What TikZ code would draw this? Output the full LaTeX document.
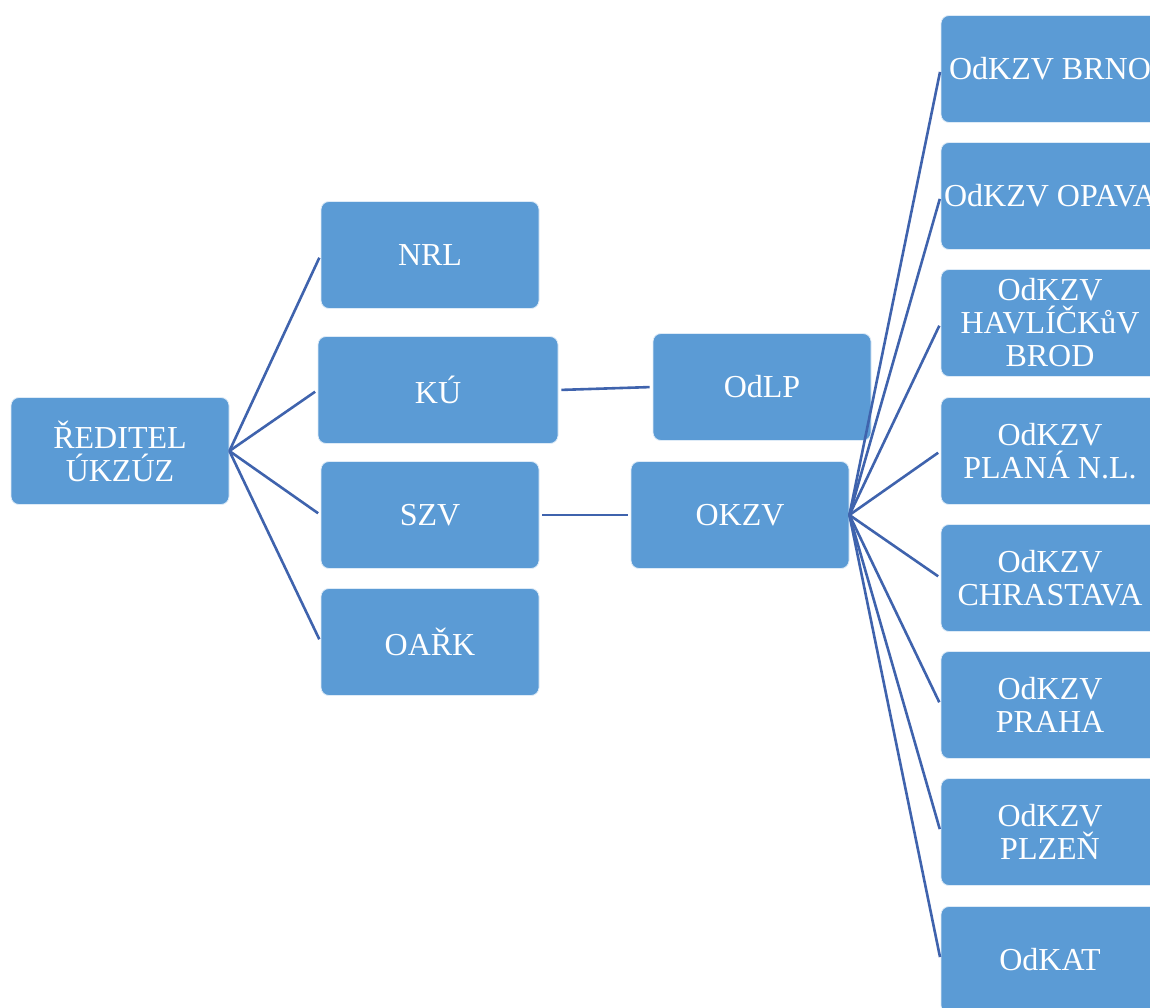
\documentclass[tikz,border=0pt]{standalone}
\usepackage{fontspec}
\setmainfont{Liberation Serif}
\usetikzlibrary{positioning}
\definecolor{boxblue}{HTML}{5B9BD5}
\definecolor{lineblue}{HTML}{3F63AD}

\begin{document}
\begin{tikzpicture}[x=1pt,y=-1pt,
    box/.style={rectangle, rounded corners=8pt, fill=boxblue, draw=white!80!boxblue,
      line width=0.8pt, text=white, minimum width=218pt, minimum height=107pt,
      align=center, inner sep=0pt, font=\fontsize{32}{33}\selectfont},
    link/.style={draw=lineblue, line width=2.6pt, shorten >=3pt}]
  \useasboundingbox (0,0) rectangle (1150,1008);
  \clip (0,0) rectangle (1150,1008);
  % left part
  \node[box] (reditel) at (120,451) {ŘEDITEL\\ÚKZÚZ};
  \node[box] (nrl) at (430,255) {NRL};
  \node[box, minimum width=240pt] (ku) at (438,390) {KÚ};
  \node[box] (szv) at (430,515) {SZV};
  \node[box] (oark) at (430,642) {OAŘK};
  \node[box] (odlp) at (762,387) {OdLP};
  \node[box] (okzv) at (740,515) {OKZV};
  % right column
  \node[box] (brno) at (1050,69) {OdKZV BRNO};
  \node[box] (opava) at (1050,196) {OdKZV OPAVA};
  \node[box] (havl) at (1050,323) {OdKZV\\HAVLÍČKůV\\BROD};
  \node[box] (plana) at (1050,451) {OdKZV\\PLANÁ N.L.};
  \node[box] (chrast) at (1050,578) {OdKZV\\CHRASTAVA};
  \node[box] (praha) at (1050,705) {OdKZV\\PRAHA};
  \node[box] (plzen) at (1050,832) {OdKZV\\PLZEŇ};
  \node[box] (odkat) at (1050,960) {OdKAT};

  \foreach \n in {nrl,ku,szv,oark}
    \draw[link] (reditel.east) -- (\n.west);
  \draw[link, shorten <=3pt] (ku.east) -- (odlp.west);
  \draw[link, shorten <=3pt] (szv.east) -- (okzv.west);
  \foreach \n in {brno,opava,havl,plana,chrast,praha,plzen,odkat}
    \draw[link] (okzv.east) -- (\n.west);
\end{tikzpicture}
\end{document}
